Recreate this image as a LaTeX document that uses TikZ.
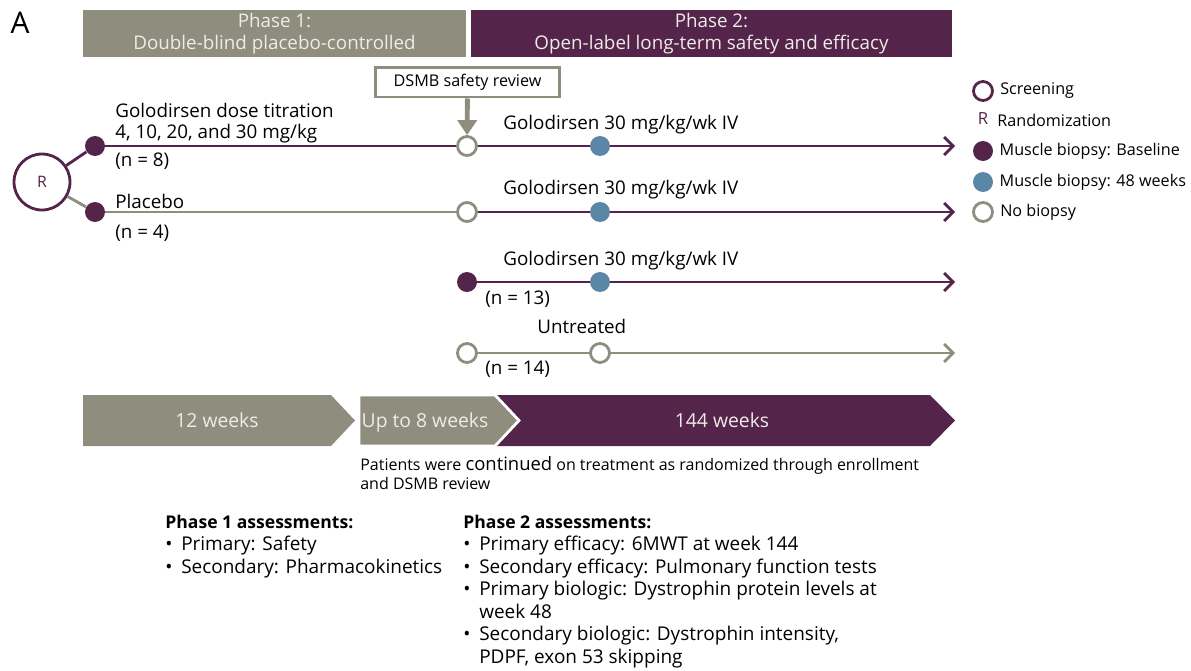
\documentclass[tikz,border=0pt]{standalone}
\usepackage{fontspec}
\setmainfont{Open Sans}
\usetikzlibrary{arrows.meta,positioning}

\definecolor{phpurple}{HTML}{54244A}
\definecolor{phgray}{HTML}{8F8D7E}
\definecolor{bxblue}{HTML}{5A87A6}
\definecolor{paletext}{HTML}{EEECE6}

\tikzset{
  banner/.style={rectangle, minimum height=0.94cm, inner sep=0pt, text=paletext, align=center, font=\fontsize{10.7}{12.5}\selectfont},
  biopsy/.style={circle, fill=phpurple, minimum size=0.4cm, inner sep=0pt},
  lateb/.style={circle, fill=bxblue, minimum size=0.4cm, inner sep=0pt},
  nobiopsy/.style={circle, draw=phgray, fill=white, line width=1.6pt, minimum size=0.38cm, inner sep=0pt},
  ring/.style={circle, draw=phpurple, fill=white, line width=1.6pt, inner sep=0pt},
  armline/.style={line width=1.6pt},
  arm/.style={armline, -{Straight Barb[length=0.18cm, width=0.36cm, line width=1.6pt]}},
  lbl/.style={anchor=base west, inner sep=0pt, font=\fontsize{10.7}{12}\selectfont},
  lgtext/.style={inner sep=0pt, font=\fontsize{9.2}{11}\selectfont},
  chevtext/.style={anchor=base, text=paletext, font=\fontsize{11}{12}\selectfont},
  assess/.style={anchor=north west, inner sep=0pt, font=\fontsize{10.8}{12.8}\selectfont}
}

\begin{document}
\begin{tikzpicture}[x=0.02cm, y=-0.02cm]
  \useasboundingbox (0,0) rectangle (1191,670);

  \node[font=\fontsize{17}{17}\selectfont] (panel) at (20,23) {A};

  % phases
  \node[banner, fill=phgray, minimum width=7.66cm] (phase1) at (274.5,33.5) {Phase 1:\\Double-blind placebo-controlled};
  \node[banner, fill=phpurple, minimum width=9.62cm] (phase2) at (711.5,33.5) {Phase 2:\\Open-label long-term safety and efficacy};

  \node[draw=phgray, line width=1.7pt, minimum width=3.7cm, minimum height=0.6cm, inner sep=0pt, font=\fontsize{9.2}{11}\selectfont] (dsmb) at (467.5,82) {DSMB safety review};

  % randomization
  \node[ring, minimum size=1.12cm, text=phpurple, font=\fontsize{9}{9}\selectfont] (rand) at (42,182) {R};

  % arm 1
  \node[biopsy] (b1) at (95,146) {};
  \node[nobiopsy] (s1) at (467,146) {};
  \node[lateb] (w1) at (600,146) {};
  \coordinate (e1) at (955,146);
  \draw[arm, phpurple] (b1) -- (s1) -- (w1) -- (e1);
  \node[lbl] (arm1a) at (115,117) {Golodirsen dose titration};
  \node[lbl] (arm1b) at (115,138) {4, 10, 20, and 30 mg/kg};
  \node[lbl] (arm1n) at (115,166) {(n = 8)};
  \node[lbl] (arm1c) at (503,129) {Golodirsen 30 mg/kg/wk IV};

  % arm 2
  \node[biopsy] (b2) at (95,212) {};
  \node[nobiopsy] (s2) at (467,212) {};
  \node[lateb] (w2) at (600,212) {};
  \coordinate (e2) at (955,212);
  \draw[armline, phgray] (b2) -- (s2);
  \draw[arm, phpurple] (s2) -- (w2) -- (e2);
  \node[lbl] (arm2a) at (115,208) {Placebo};
  \node[lbl] (arm2n) at (115,238) {(n = 4)};
  \node[lbl] (arm2c) at (503,194) {Golodirsen 30 mg/kg/wk IV};

  \draw[armline, phpurple] (rand) -- (b1);
  \draw[armline, phgray] (rand) -- (b2);

  % arm 3
  \node[biopsy] (b3) at (467,282) {};
  \node[lateb] (w3) at (600,282) {};
  \coordinate (e3) at (955,282);
  \draw[arm, phpurple] (b3) -- (w3) -- (e3);
  \node[lbl] (arm3c) at (503,265) {Golodirsen 30 mg/kg/wk IV};
  \node[lbl] (arm3n) at (485,304) {(n = 13)};

  % arm 4
  \node[nobiopsy] (s4) at (467,353) {};
  \node[nobiopsy] (w4) at (600,353) {};
  \coordinate (e4) at (955,353);
  \draw[arm, phgray] (s4) -- (w4) -- (e4);
  \node[lbl] (arm4c) at (537,333) {Untreated};
  \node[lbl] (arm4n) at (485,374) {(n = 14)};

  \draw[phgray, line width=2.8pt, -{Triangle[length=0.3cm, width=0.38cm]}] (dsmb) -- (s1);

  % legend
  \node[ring, minimum size=0.38cm] (lgscreen) at (983,91) {};
  \node[lgtext, right=0.12cm of lgscreen] (lgscreent) {Screening};
  \node[text=phpurple, inner sep=0pt, font=\fontsize{9.5}{9.5}\selectfont] (lgrand) at (983,119) {R};
  \node[lgtext, anchor=west] (lgrandt) at (997,120) {Randomization};
  \node[biopsy] (lgbase) at (983,151) {};
  \node[lgtext, right=0.12cm of lgbase] (lgbaset) {Muscle biopsy: Baseline};
  \node[lateb] (lgweek) at (983,182) {};
  \node[lgtext, right=0.12cm of lgweek] (lgweekt) {Muscle biopsy: 48 weeks};
  \node[nobiopsy] (lgnone) at (983,212) {};
  \node[lgtext, right=0.12cm of lgnone] (lgnonet) {No biopsy};

  % timeline
  \fill[phpurple] (495,395) -- (930,395) -- (955,420.5) -- (930,446) -- (495,446) -- cycle;
  \fill[phgray] (83,395) -- (331,395) -- (355,420.5) -- (331,446) -- (83,446) -- cycle;
  \filldraw[phgray, draw=white, line width=1.6pt] (359,395) -- (495,395) -- (519,420.5) -- (495,446) -- (359,446) -- cycle;
  \node[chevtext] (wk12) at (217,427) {12 weeks};
  \node[chevtext] (wk8) at (425,427) {Up to 8 weeks};
  \node[chevtext] (wk144) at (722,427) {144 weeks};

  \node[anchor=north west, inner sep=0pt, align=left, font=\fontsize{9.1}{10.8}\selectfont] (note) at (360,456)
    {Patients were {\fontsize{10.5}{10.8}\selectfont continued} on treatment as randomized through enrollment\\and DSMB review};

  % assessments
  \node[assess] (ass1) at (165,512) {\begin{tabular}{@{}l@{\hspace{5pt}}l@{}}
    \multicolumn{2}{@{}l}{\fontsize{10}{12.8}\selectfont\bfseries Phase 1 assessments:}\\
    \textbullet & Primary: Safety\\
    \textbullet & Secondary: Pharmacokinetics
  \end{tabular}};
  \node[assess] (ass2) at (463,512) {\begin{tabular}{@{}l@{\hspace{5pt}}l@{}}
    \multicolumn{2}{@{}l}{\fontsize{10}{12.8}\selectfont\bfseries Phase 2 assessments:}\\
    \textbullet & Primary efficacy: 6MWT at week 144\\
    \textbullet & Secondary efficacy: Pulmonary function tests\\
    \textbullet & Primary biologic: Dystrophin protein levels at\\
    & week 48\\
    \textbullet & Secondary biologic: Dystrophin intensity,\\
    & PDPF, exon 53 skipping
  \end{tabular}};
\end{tikzpicture}
\end{document}
